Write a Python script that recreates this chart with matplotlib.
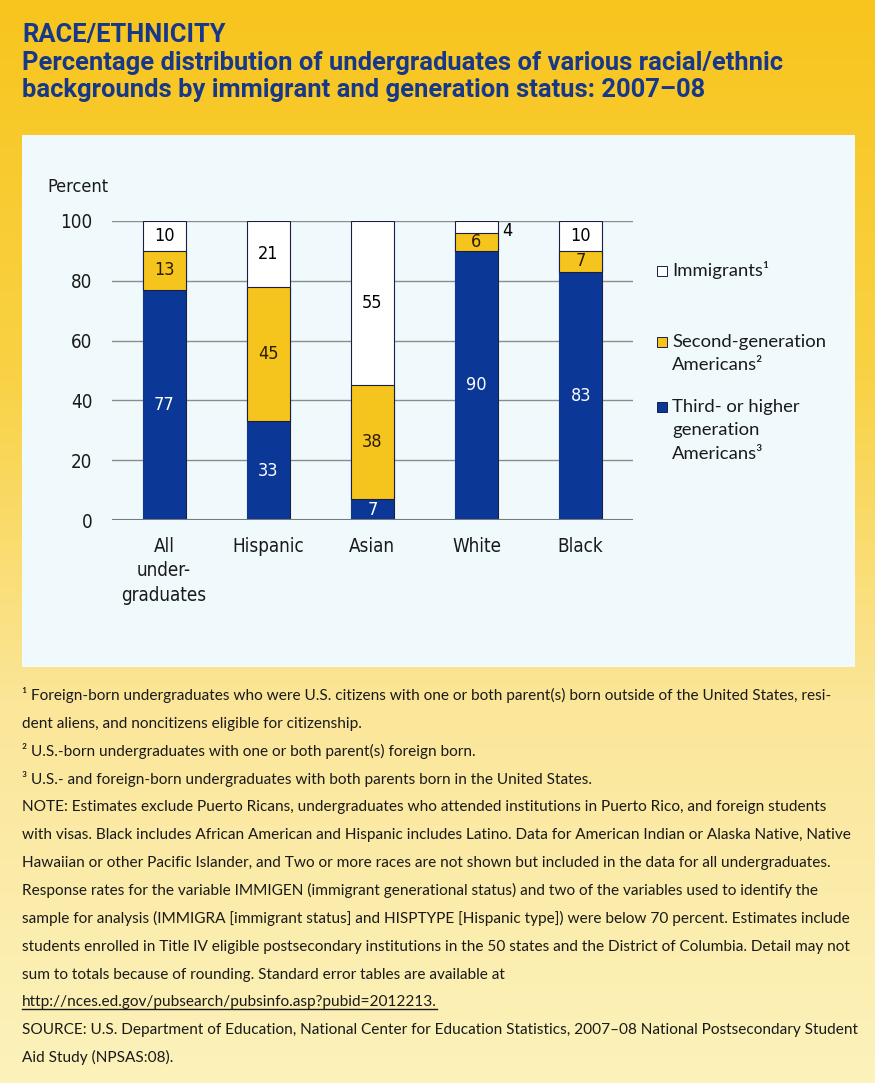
import numpy as np
import matplotlib
matplotlib.use('Agg')
import matplotlib.pyplot as plt
from matplotlib.patches import Rectangle
from matplotlib.colors import LinearSegmentedColormap
from matplotlib import font_manager

# Data
categories = ['All\nunder-\ngraduates', 'Hispanic', 'Asian', 'White', 'Black']
third_gen = [77, 33, 7, 90, 83]
second_gen = [13, 45, 38, 6, 7]
immigrants = [10, 21, 55, 4, 10]
total = 100
yticks = [0, 20, 40, 60, 80, 100]
legend_labels = ['Immigrants¹', 'Second-generation\nAmericans²', 'Third- or higher\ngeneration\nAmericans³']

title_lines = ['RACE/ETHNICITY',
               'Percentage distribution of undergraduates of various racial/ethnic',
               'backgrounds by immigrant and generation status: 2007\u201308']

notes = [
    '¹ Foreign-born undergraduates who were U.S. citizens with one or both parent(s) born outside of the United States, resi-',
    'dent aliens, and noncitizens eligible for citizenship.',
    '² U.S.-born undergraduates with one or both parent(s) foreign born.',
    '³ U.S.- and foreign-born undergraduates with both parents born in the United States.',
    'NOTE: Estimates exclude Puerto Ricans, undergraduates who attended institutions in Puerto Rico, and foreign students',
    'with visas. Black includes African American and Hispanic includes Latino. Data for American Indian or Alaska Native, Native',
    'Hawaiian or other Pacific Islander, and Two or more races are not shown but included in the data for all undergraduates.',
    'Response rates for the variable IMMIGEN (immigrant generational status) and two of the variables used to identify the',
    'sample for analysis (IMMIGRA [immigrant status] and HISPTYPE [Hispanic type]) were below 70 percent. Estimates include',
    'students enrolled in Title IV eligible postsecondary institutions in the 50 states and the District of Columbia. Detail may not',
    'sum to totals because of rounding. Standard error tables are available at',
    'http://nces.ed.gov/pubsearch/pubsinfo.asp?pubid=2012213.',
    'SOURCE: U.S. Department of Education, National Center for Education Statistics, 2007\u201308 National Postsecondary Student',
    'Aid Study (NPSAS:08).',
]
url_line = 11

# Styling
NAVY = '#0b3796'
GOLD = '#f6c51d'
TITLE = '#173889'
PANEL = '#f0fafc'
EDGE = '#1a1f45'
W, H = 875, 1083


def has_font(name):
    try:
        font_manager.findfont(name, fallback_to_default=False)
        return True
    except ValueError:
        return False


NARROW = dict(family='Liberation Sans Narrow') if has_font('Liberation Sans Narrow') \
    else dict(family='DejaVu Sans', stretch='condensed')
LATO = 'Lato' if has_font('Lato') else 'DejaVu Sans'
TFONT = 'Roboto' if has_font('Roboto') else LATO


def fx(x):
    return x / W


def fy(y):
    return 1 - y / H


fig = plt.figure(figsize=(8.75, 10.83), dpi=100)

# Background gradient and panel
bg = fig.add_axes([0, 0, 1, 1], zorder=-10)
cmap = LinearSegmentedColormap.from_list('bg', [(0, '#f8c51e'), (0.35, '#f9d245'),
                                                (0.65, '#fbe699'), (1, '#fcf2bb')])
bg.imshow(np.linspace(0, 1, 256).reshape(-1, 1), aspect='auto', cmap=cmap, extent=[0, 1, 0, 1])
bg.add_patch(Rectangle((fx(22), fy(667)), fx(855) - fx(22), fy(135) - fy(667),
                       facecolor=PANEL, edgecolor='none'))
bg.set_xlim(0, 1)
bg.set_ylim(0, 1)
bg.axis('off')

# Title
title_txt = []
for txt, base in zip(title_lines, [42, 70, 97]):
    title_txt.append(fig.text(fx(22), fy(base), txt, color=TITLE, fontsize=16, fontweight='bold',
                              family=TFONT, va='baseline', ha='left'))

# Chart
ax = fig.add_axes([fx(112), fy(520), (632.7 - 112) / W, (520 - 221) / H])
ax.set_facecolor('none')
x = np.arange(len(categories))
bw = 0.413
ax.bar(x, [total] * len(x), bw, color='white', edgecolor=EDGE, lw=0.8, zorder=2)
ax.bar(x, third_gen, bw, color=NAVY, edgecolor='none', zorder=3)
ax.bar(x, second_gen, bw, bottom=third_gen, color=GOLD, edgecolor=EDGE, lw=0.8, zorder=3)

for i in range(len(x)):
    t, s, m = third_gen[i], second_gen[i], immigrants[i]
    ax.text(i, t / 2, str(t), color='white', ha='center', va='center', fontsize=13, zorder=5, **NARROW)
    ax.text(i, t + s / 2, str(s), color='#2a1c00', ha='center', va='center', fontsize=13, zorder=5, **NARROW)
    if m >= 8:
        ax.text(i, (t + s + total) / 2, str(m), color='black', ha='center', va='center',
                fontsize=13, zorder=5, **NARROW)
    else:
        ax.text(i + 0.30, 96.8, str(m), color='black', ha='center', va='center',
                fontsize=13, zorder=5, **NARROW)

ax.set_xlim(-0.5, 4.5)
ax.set_ylim(0, 100)
ax.set_yticks(yticks)
ax.yaxis.grid(True, color='#8c8c8c', lw=1)
ax.set_axisbelow(True)
ax.axhline(0, color='#7a7a7a', lw=2.2, zorder=4)
for sp in ax.spines.values():
    sp.set_visible(False)
ax.set_xticks(x)
ax.set_xticklabels(categories, linespacing=1.38)
ax.tick_params(length=0)
ax.tick_params(axis='y', pad=14)
ax.tick_params(axis='x', pad=12)
for lab in ax.get_xticklabels() + ax.get_yticklabels():
    lab.set_fontsize(13.5)
    lab.set_family(NARROW['family'])
    if 'stretch' in NARROW:
        lab.set_stretch(NARROW['stretch'])
    lab.set_color('#1a1a1a')

fig.text(fx(47), fy(187), 'Percent', ha='left', va='center', fontsize=13, color='#1a1a1a', **NARROW)

# Legend
leg_colors = ['white', GOLD, NAVY]
leg_tops = [276, 347, 412]
for col, lab, base in zip(leg_colors, legend_labels, leg_tops):
    fig.patches.append(Rectangle((fx(657), fy(base)), 10 / W, 10 / H, facecolor=col,
                                 edgecolor=EDGE, lw=0.7, transform=fig.transFigure, figure=fig))
    for j, line in enumerate(lab.split('\n')):
        fig.text(fx(672), fy(base + j * 23.5), line, ha='left', va='baseline',
                 fontsize=13.3, color='#1a1a1a', family=LATO)

# Footnotes
note_base = 700
note_step = 27.85
texts = []
for k, line in enumerate(notes):
    t = fig.text(fx(22), fy(note_base + k * note_step), line, ha='left', va='baseline',
                 fontsize=13, color='#1a1a1a', family=LATO)
    texts.append(t)

# fit widths to the reference line lengths
fig.canvas.draw()
w5 = texts[5].get_window_extent().width
for t in texts:
    t.set_fontsize(13 * (853 - 22) / w5)
wt = title_txt[1].get_window_extent().width
for t in title_txt:
    t.set_fontsize(16 * (782 - 22) / wt)

fig.canvas.draw()
bb = texts[url_line].get_window_extent()
uy = fy(note_base + url_line * note_step + 3)
fig.add_artist(plt.Line2D([bb.x0 / W, bb.x1 / W], [uy, uy], color='#1a1a1a', lw=1,
                          transform=fig.transFigure))

fig.savefig('out.png', dpi=100)
